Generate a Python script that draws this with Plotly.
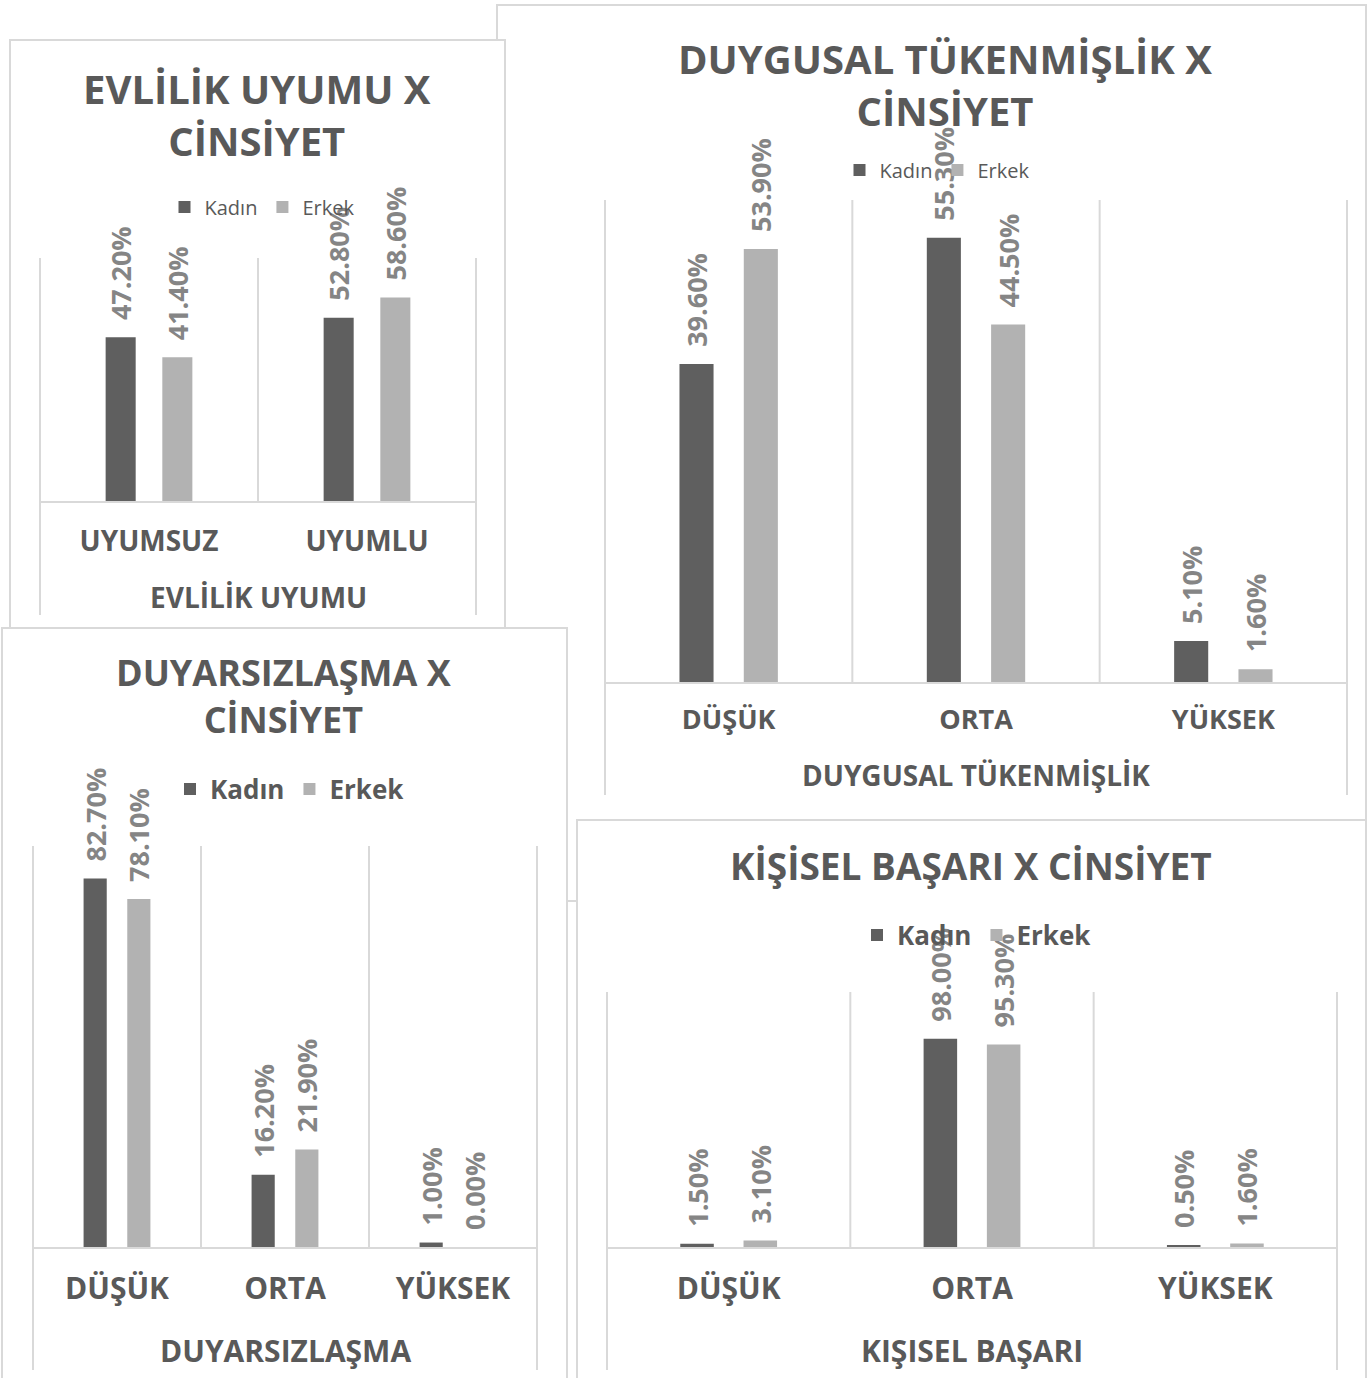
import plotly.graph_objects as go

W, H = 1372, 1378

# Evlilik uyumu x cinsiyet
evlilik_kategoriler = ["UYUMSUZ", "UYUMLU"]
evlilik_kadin = [47.2, 52.8]
evlilik_erkek = [41.4, 58.6]

# Duygusal tükenmişlik x cinsiyet
duygusal_kategoriler = ["DÜŞÜK", "ORTA", "YÜKSEK"]
duygusal_kadin = [39.6, 55.3, 5.1]
duygusal_erkek = [53.9, 44.5, 1.6]

# Duyarsızlaşma x cinsiyet
duyarsiz_kategoriler = ["DÜŞÜK", "ORTA", "YÜKSEK"]
duyarsiz_kadin = [82.7, 16.2, 1.0]
duyarsiz_erkek = [78.1, 21.9, 0.0]

# Kişisel başarı x cinsiyet
kisisel_kategoriler = ["DÜŞÜK", "ORTA", "YÜKSEK"]
kisisel_kadin = [1.5, 98.0, 0.5]
kisisel_erkek = [3.1, 95.3, 1.6]

KADIN = "#5f5f5f"
ERKEK = "#b2b2b2"
TEXT = "#595959"
LABEL = "#858585"
BORDER = "#d9d9d9"
FONT = "Open Sans"


def px(x):
    return x / W


def py(y):
    return 1 - y / H


# panel order = drawing order (later panels cover earlier ones)
panels = [
    dict(cats=duygusal_kategoriler, kadin=duygusal_kadin, erkek=duygusal_erkek, ymax=60,
         box=(497, 5, 1366, 901), plot=(605, 200, 1347, 682), sep_bottom=795,
         title="DUYGUSAL TÜKENMİŞLİK X<br>CİNSİYET", title_xy=(945, 84), title_size=40,
         legend_xy=(937, 170), legend_size=20, legend_weight="normal",
         tick_y=720, tick_size=27,
         axis_title="DUYGUSAL TÜKENMİŞLİK", axis_title_y=775, axis_title_size=28),
    dict(cats=evlilik_kategoriler, kadin=evlilik_kadin, erkek=evlilik_erkek, ymax=70,
         box=(10, 40, 505, 640), plot=(40, 258, 476, 501), sep_bottom=615,
         title="EVLİLİK UYUMU X<br>CİNSİYET", title_xy=(257, 114), title_size=40,
         legend_xy=(262, 207), legend_size=20, legend_weight="normal",
         tick_y=540, tick_size=28,
         axis_title="EVLİLİK UYUMU", axis_title_y=597, axis_title_size=28),
    dict(cats=duyarsiz_kategoriler, kadin=duyarsiz_kadin, erkek=duyarsiz_erkek, ymax=90,
         box=(2, 628, 567, 1420), plot=(33, 846, 537, 1247), sep_bottom=1370,
         title="DUYARSIZLAŞMA X<br>CİNSİYET", title_xy=(284, 696), title_size=36,
         legend_xy=(290, 789), legend_size=26, legend_weight="bold",
         tick_y=1288, tick_size=30,
         axis_title="DUYARSIZLAŞMA", axis_title_y=1350, axis_title_size=30),
    dict(cats=kisisel_kategoriler, kadin=kisisel_kadin, erkek=kisisel_erkek, ymax=120,
         box=(577, 820, 1366, 1420), plot=(607, 992, 1337, 1247), sep_bottom=1370,
         title="KİŞİSEL BAŞARI X CİNSİYET", title_xy=(971, 865), title_size=37,
         legend_xy=(977, 935), legend_size=26, legend_weight="bold",
         tick_y=1288, tick_size=30,
         axis_title="KIŞISEL BAŞARI", axis_title_y=1350, axis_title_size=30),
]

fig = go.Figure()
layout = dict(
    width=W, height=H,
    margin=dict(l=0, r=0, t=0, b=0),
    paper_bgcolor="white",
    plot_bgcolor="rgba(0,0,0,0)",
    barmode="group",
    bargap=0.48,
    bargroupgap=0.47,
    font=dict(family=FONT, color=TEXT),
    showlegend=True,
    hovermode=False,
)
shapes = []
lines = []
annotations = []

for i, p in enumerate(panels):
    s = "" if i == 0 else str(i + 1)
    x0, yt, x1, yb = p["plot"]
    n = len(p["cats"])

    for name, vals, color in [("Kadın", p["kadin"], KADIN), ("Erkek", p["erkek"], ERKEK)]:
        fig.add_trace(go.Bar(
            x=p["cats"], y=vals, name=name,
            marker=dict(color=color, line=dict(width=0)),
            xaxis="x" + s, yaxis="y" + s, legend="legend" + s,
            texttemplate="\u00a0\u00a0%{y:.2f}%",
            textposition="outside", textangle=-90,
            textfont=dict(family=FONT, size=27, color=LABEL, weight="bold"),
            constraintext="none", cliponaxis=False,
        ))

    layout["xaxis" + s] = dict(
        domain=[px(x0), px(x1)], anchor="y" + s, type="category",
        categoryorder="array", categoryarray=p["cats"],
        range=[-0.5, n - 0.5], showgrid=False, zeroline=False,
        showline=True, linecolor=BORDER, linewidth=2, ticks="",
        tickfont=dict(family=FONT, size=p["tick_size"], color=TEXT, weight="bold"),
        ticklabelstandoff=int(p["tick_y"] - yb - 0.8 * p["tick_size"] - 2.5),
        fixedrange=True,
    )
    layout["yaxis" + s] = dict(
        domain=[py(yb), py(yt)], anchor="x" + s, range=[0, p["ymax"]],
        visible=False, fixedrange=True,
    )
    layout["legend" + s] = dict(
        orientation="h", x=px(p["legend_xy"][0]), y=py(p["legend_xy"][1]),
        xanchor="center", yanchor="middle", bgcolor="rgba(0,0,0,0)",
        font=dict(family=FONT, size=p["legend_size"], color=TEXT, weight=p["legend_weight"]),
        traceorder="normal",
    )

    bl, bt, br, bb = p["box"]
    shapes.append(dict(type="rect", xref="paper", yref="paper",
                       x0=px(bl), x1=px(br), y0=py(bb), y1=py(bt),
                       fillcolor="white", line=dict(color=BORDER, width=2), layer="below"))
    # category separators: the outer two run down past the axis labels
    for k in range(n + 1):
        xs = x0 + k * (x1 - x0) / n
        bottom = p["sep_bottom"] if k in (0, n) else yb
        lines.append(dict(type="line", xref="paper", yref="paper",
                          x0=px(xs), x1=px(xs), y0=py(bottom), y1=py(yt),
                          line=dict(color=BORDER, width=2), layer="below"))

    annotations.append(dict(
        text=p["title"], xref="paper", yref="paper",
        x=px(p["title_xy"][0]), y=py(p["title_xy"][1]),
        xanchor="center", yanchor="middle", showarrow=False,
        font=dict(family=FONT, size=p["title_size"], color=TEXT, weight="bold"),
    ))
    annotations.append(dict(
        text=p["axis_title"], xref="paper", yref="paper",
        x=px((x0 + x1) / 2), y=py(p["axis_title_y"]),
        xanchor="center", yanchor="middle", showarrow=False,
        font=dict(family=FONT, size=p["axis_title_size"], color=TEXT, weight="bold"),
    ))

layout["shapes"] = shapes + lines
layout["annotations"] = annotations
fig.update_layout(**layout)

# the page's default body margin would shift the whole figure by 8px
fig.write_html("out.html", config={"displayModeBar": False},
               post_script="document.body.style.margin='0';")
